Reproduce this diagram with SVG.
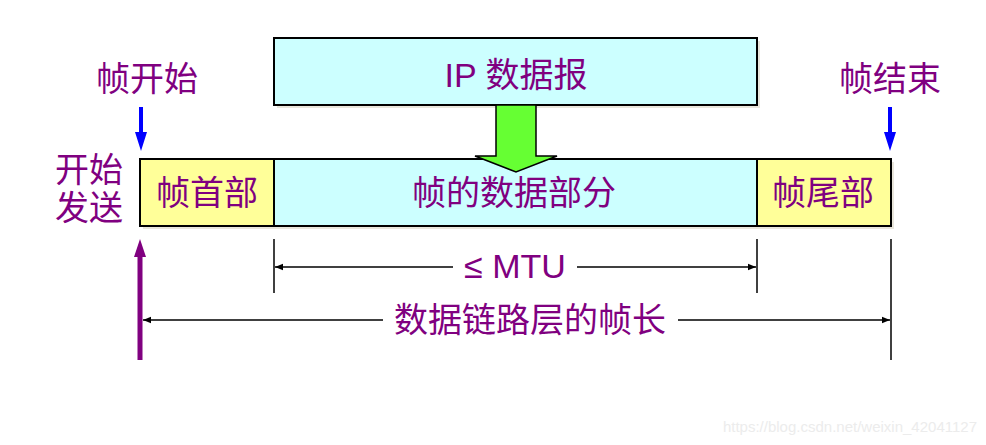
<svg xmlns="http://www.w3.org/2000/svg" width="986" height="445" viewBox="0 0 986 445">
<style>
.t{font-family:"Liberation Sans","Noto Sans CJK SC",sans-serif;font-size:34px;fill:#800080}
.box{stroke:#000;stroke-width:2}
.sh{fill:#e9e6dc}
.ln{stroke:#000;stroke-width:1.5;fill:none}
.wm{font-family:"Liberation Sans",Arial,sans-serif;font-size:15px;fill:#ececec}
</style>
<defs>
<marker id="ah" viewBox="0 0 10 10" refX="10" refY="5" markerWidth="8" markerHeight="8" markerUnits="userSpaceOnUse" orient="auto-start-reverse">
<path d="M0,1 L10,5 L0,9 Z" fill="#000"/>
</marker>
</defs>
<rect x="0" y="0" width="986" height="445" fill="#fff"/>
<g id="ip">
<rect class="sh" x="277" y="41" width="483" height="67"/>
<rect class="box" x="274" y="38" width="483" height="67" fill="#ccffff"/>
<text class="t" x="516" y="87" text-anchor="middle">IP 数据报</text>
</g>
<g id="frame-shadow">
<rect class="sh" x="143" y="162" width="751" height="67"/>
</g>
<g id="header">
<rect class="box" x="140" y="159" width="134" height="67" fill="#ffff99"/>
<text class="t" x="207" y="205" text-anchor="middle">帧首部</text>
</g>
<g id="data">
<rect class="box" x="274" y="159" width="483" height="67" fill="#ccffff"/>
<text class="t" x="514" y="205" text-anchor="middle">帧的数据部分</text>
</g>
<g id="trailer">
<rect class="box" x="757" y="159" width="134" height="67" fill="#ffff99"/>
<text class="t" x="823" y="205" text-anchor="middle">帧尾部</text>
</g>
<g id="green-arrow">
<path d="M496,105 L536,105 L536,156 L557,156 L516,172 L475,156 L496,156 Z" fill="#66ff33" stroke="#000" stroke-width="1.5" stroke-linejoin="miter"/>
</g>
<g id="labels">
<text class="t" x="147" y="91" text-anchor="middle">帧开始</text>
<text class="t" x="890" y="91" text-anchor="middle">帧结束</text>
<text class="t" x="89" y="182" text-anchor="middle">开始</text>
<text class="t" x="89" y="220" text-anchor="middle">发送</text>
</g>
<g id="connectors">
<path d="M139,107 L143,107 L143,132 L147,132 L141,151 L135,132 L139,132 Z" fill="#0000ff"/>
<path d="M888,107 L892,107 L892,132 L896,132 L890,151 L884,132 L888,132 Z" fill="#0000ff"/>
<path d="M137.5,360 L142.5,360 L142.5,257 L146,257 L140,239 L134,257 L137.5,257 Z" fill="#800080"/>
<line class="ln" x1="274" y1="239" x2="274" y2="293"/>
<line class="ln" x1="757" y1="239" x2="757" y2="293"/>
<line class="ln" x1="891" y1="239" x2="891" y2="360"/>
<line class="ln" x1="453" y1="267" x2="275" y2="267" marker-end="url(#ah)"/>
<line class="ln" x1="577" y1="267" x2="756" y2="267" marker-end="url(#ah)"/>
<line class="ln" x1="383" y1="320" x2="143" y2="320" marker-end="url(#ah)"/>
<line class="ln" x1="678" y1="320" x2="890" y2="320" marker-end="url(#ah)"/>
<text class="t" x="515" y="278" text-anchor="middle">≤ MTU</text>
<text class="t" x="530" y="332" text-anchor="middle">数据链路层的帧长</text>
</g>
<text class="wm" x="977" y="432" text-anchor="end">https://blog.csdn.net/weixin_42041127</text>
</svg>
